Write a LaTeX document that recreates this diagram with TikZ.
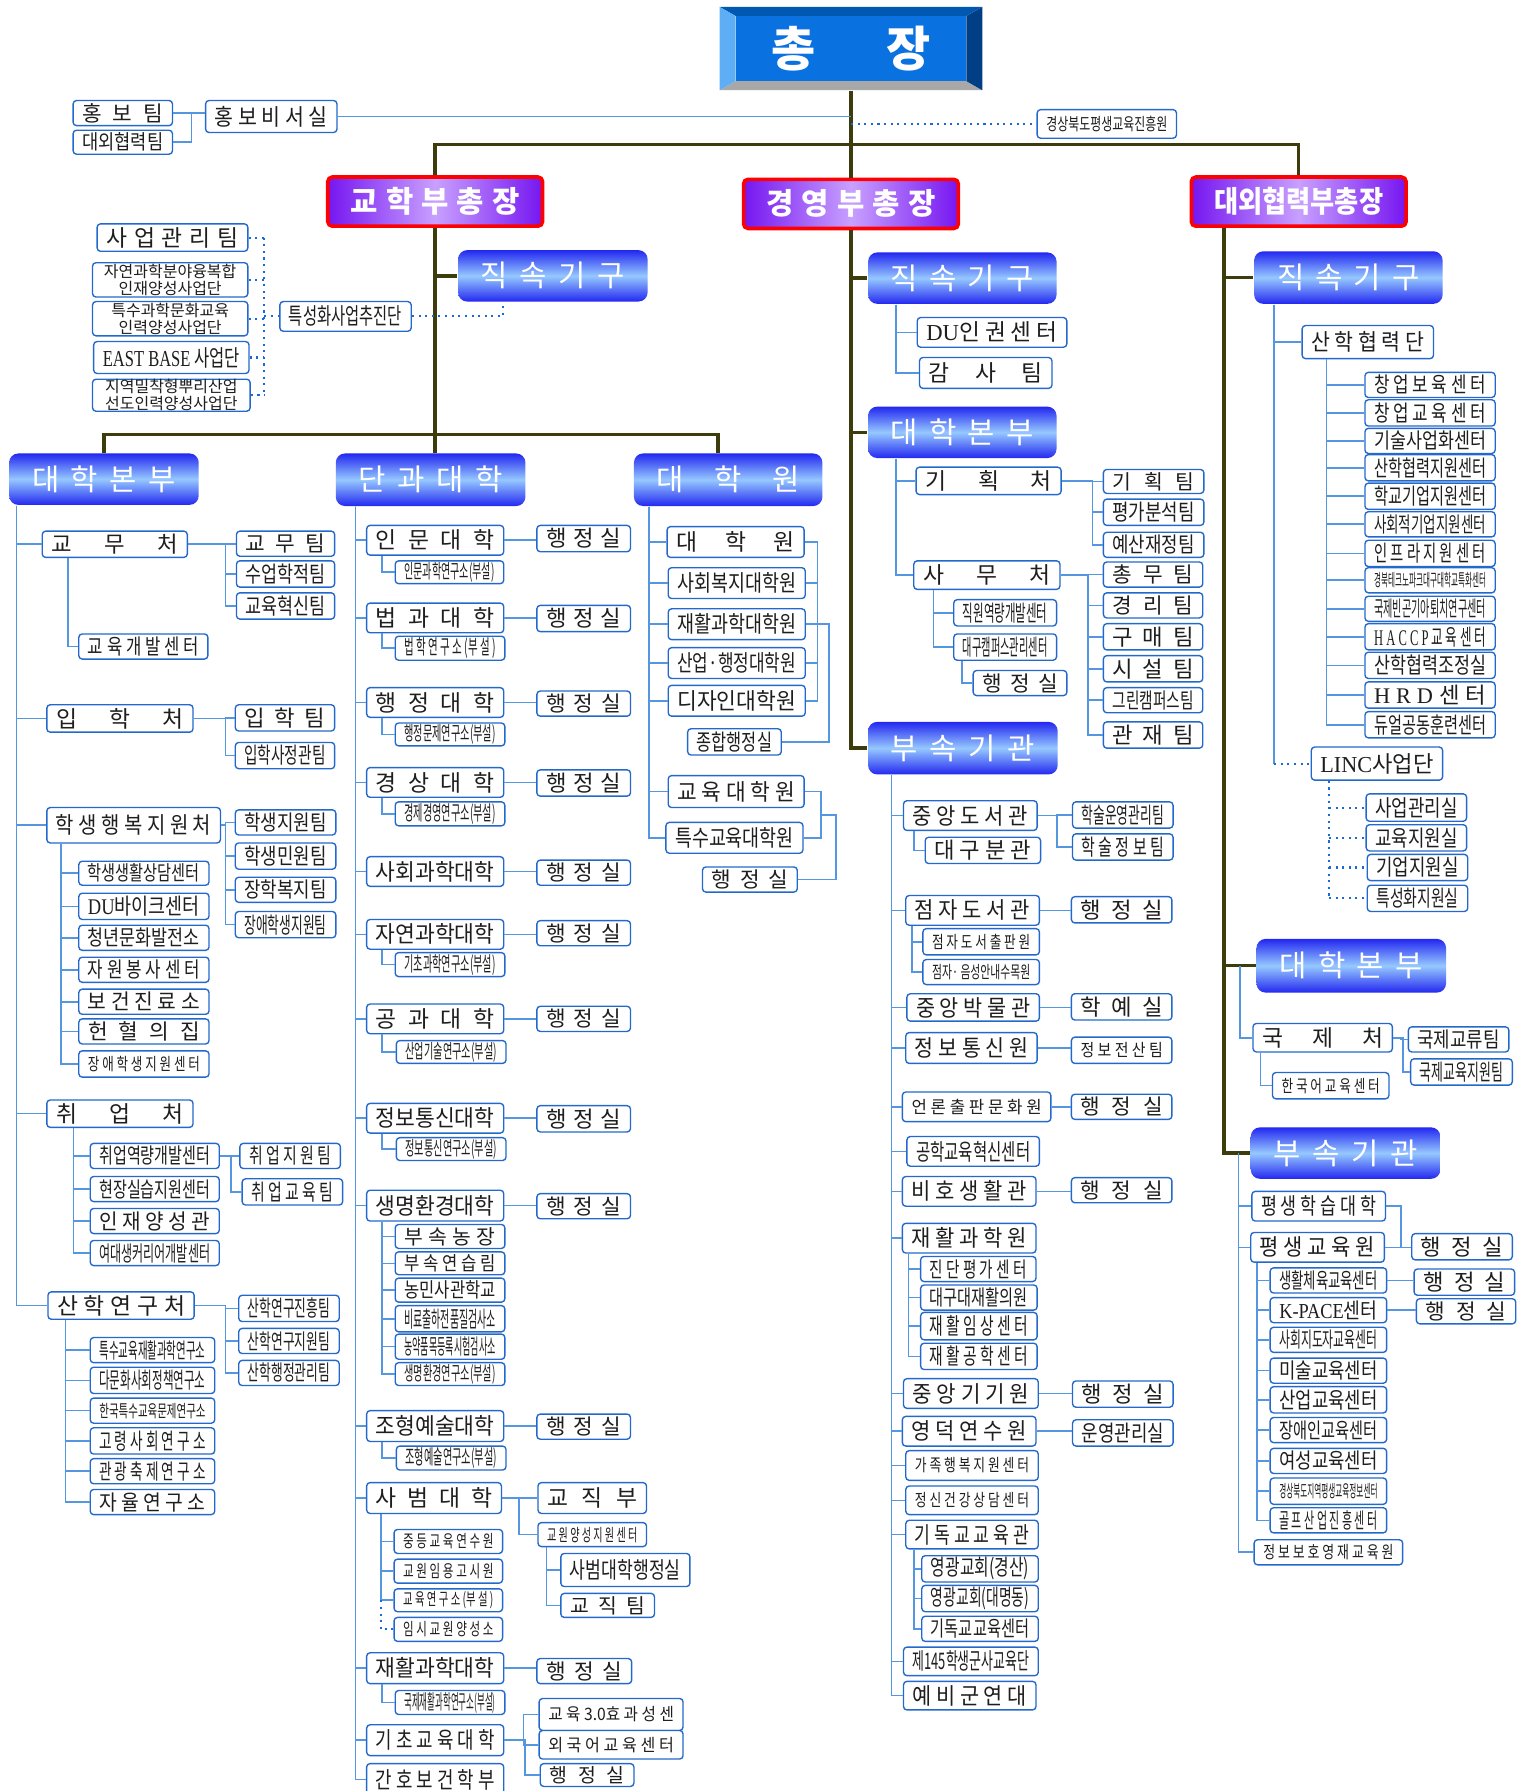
\documentclass[tikz,border=0pt]{standalone}
\usepackage{fontspec}
\setmainfont{Noto Sans CJK KR}
\newfontfamily\lat{Liberation Serif}
\usetikzlibrary{calc,positioning}
\definecolor{boxc}{RGB}{35,105,205}
\definecolor{lnc}{RGB}{85,150,225}
\definecolor{olv}{RGB}{60,60,12}
\definecolor{dotc}{RGB}{25,105,215}
\definecolor{hdtop}{RGB}{35,40,240}
\definecolor{hdmid}{RGB}{150,200,255}
\definecolor{vpside}{RGB}{118,22,240}
\definecolor{vpmid}{RGB}{200,160,255}
\definecolor{txt}{RGB}{30,30,30}
\definecolor{chieffill}{RGB}{10,114,224}
\definecolor{bevtop}{RGB}{0,88,176}
\definecolor{bevleft}{RGB}{94,174,245}
\definecolor{bevright}{RGB}{0,62,133}
\definecolor{bevbot}{RGB}{168,168,168}
\newlength\obwd \newlength\obw \newlength\obpad \newsavebox\obbox
\newcommand\fitx[1]{\obw=\obwd\advance\obw by -\obpad
  \sbox\obbox{#1}%
  \ifdim\wd\obbox>\obw
    \pgfmathsetmacro\obf{\the\obw/\the\wd\obbox}%
    \scalebox{\obf}[1]{\usebox\obbox}%
  \else
    \makebox[\obw][s]{\hskip0pt plus .01pt#1\hskip0pt plus .01pt}%
  \fi}
\newcommand\orgbox[7][]{%
  \pgfmathsetmacro\obW{(#5-#3)*0.5}\pgfmathsetmacro\obH{(#6-#4)*0.5}%
  \pgfmathsetmacro\obS{min(0.85*(#6-#4),20)*0.5}\setlength\obwd{\obW pt}%
  \node[ob,font=\fontsize{\obS}{\obS}\selectfont,#1,minimum width=\obW pt,minimum height=\obH pt] (#2) at ({(#3+#5)/2},{(#4+#6)/2}) {\fitx{#7}};}
\newcommand\orgtwo[8][]{%
  \pgfmathsetmacro\obW{(#5-#3)*0.5}\pgfmathsetmacro\obH{(#6-#4)*0.5}\setlength\obwd{\obW pt}%
  \node[ob,font=\fontsize{7}{7.4}\selectfont,align=center,#1,minimum width=\obW pt,minimum height=\obH pt] (#2) at ({(#3+#5)/2},{(#4+#6)/2}) {\fitx{#7}\\\fitx{#8}};}
\tikzset{
  txtpad/.code={\setlength\obpad{#1}},
  ob/.style={draw=boxc,line width=0.6pt,rounded corners=1.5pt,fill=white,inner sep=0pt,text=txt,txtpad=8pt},
  hd/.style={draw=none,rounded corners=4pt,top color=hdtop,bottom color=hdtop,middle color=hdmid,text=white,font=\fontsize{13}{13}\selectfont,txtpad=20pt},
  vp/.style={draw=red,line width=1.6pt,rounded corners=2pt,left color=vpside,right color=vpside,middle color=vpmid,text=white,font=\fontsize{13}{13}\selectfont\bfseries,txtpad=20pt},
  chief/.style={draw=none,fill=chieffill,rounded corners=0pt,text=white,font=\fontsize{21}{21}\selectfont\bfseries,txtpad=31pt},
  smf/.style={font=\fontsize{7.5}{7.5}\selectfont},
  ln/.style={draw=lnc,line width=0.7pt},
  mln/.style={draw=olv,line width=1.5pt},
  dln/.style={draw=dotc,line width=0.9pt,dotted}
}
\begin{document}
\begin{tikzpicture}[x=0.5pt,y=-0.5pt]
\useasboundingbox (0,0) rectangle (1336,1568);
\fill[white] (0,0) rectangle (1336,1568);
\fill[bevbot] (630,79) -- (860,79) -- (846,71) -- (644,71) -- cycle;
\fill[bevright] (860,6) -- (860,79) -- (846,71) -- (846,14) -- cycle;
\fill[bevtop] (630,6) -- (860,6) -- (846,14) -- (644,14) -- cycle;
\fill[bevleft] (630,6) -- (644,14) -- (644,71) -- (630,79) -- cycle;
\orgbox[chief]{chong}{644}{14}{846}{71}{총 장}
\orgbox{hongbo}{180}{88}{295}{116}{홍 보 비 서 실}
\orgbox{hbteam}{64}{88}{151}{110}{홍 보 팀}
\orgbox{dwteam}{64}{114}{151}{135}{대외협력팀}
\orgbox[smf]{gbpe}{908}{96}{1030}{121}{경상북도평생교육진흥원}
\orgbox[vp]{gh}{287}{155}{475}{198}{교 학 부 총 장}
\orgbox[vp]{gy}{651}{157}{839}{200}{경 영 부 총 장}
\orgbox[vp]{gd}{1043}{155}{1231}{198}{대외협력부총장}
\orgbox[hd]{jk1}{401}{219}{567}{264}{직 속 기 구}
\orgbox[hd]{hq1}{8}{397}{174}{442}{대 학 본 부}
\orgbox[hd]{dk}{294}{397}{460}{443}{단 과 대 학}
\orgbox[hd]{gs}{555}{397}{720}{443}{대 학 원}
\orgbox[hd]{jk2}{760}{221}{925}{266}{직 속 기 구}
\orgbox[hd]{hq2}{760}{356}{925}{401}{대 학 본 부}
\orgbox[hd]{bk2}{760}{632}{926}{678}{부 속 기 관}
\orgbox[hd]{jk3}{1098}{220}{1263}{266}{직 속 기 구}
\orgbox[hd]{hq3}{1100}{822}{1266}{869}{대 학 본 부}
\orgbox[hd]{bk3}{1095}{987}{1261}{1032}{부 속 기 관}
\orgbox{tsk}{245}{264}{360}{290}{특성화사업추진단}
\orgbox{sg1}{85}{196}{217}{220}{사 업 관 리 팀}
\orgtwo{sg2}{81}{230}{217}{260}{자연과학분야융복합}{인재양성사업단}
\orgtwo{sg3}{81}{264}{217}{294}{특수과학문화교육}{인력양성사업단}
\orgbox{sg4}{82}{299}{218}{327}{{\lat EAST BASE} 사업단}
\orgtwo{sg5}{81}{332}{219}{360}{지역밀착형뿌리산업}{선도인력양성사업단}
\orgbox{gm}{37}{465}{164}{488}{교 무 처}
\orgbox{gmt1}{207}{465}{293}{487}{교 무 팀}
\orgbox{gmt2}{207}{491}{293}{514}{수업학적팀}
\orgbox{gmt3}{207}{519}{293}{542}{교육혁신팀}
\orgbox{gdc}{69}{555}{182}{577}{교 육 개 발 센 터}
\orgbox{ih}{41}{617}{169}{641}{입 학 처}
\orgbox{iht1}{206}{617}{293}{640}{입 학 팀}
\orgbox{iht2}{206}{650}{293}{673}{입학사정관팀}
\orgbox{hs}{41}{707}{193}{738}{학 생 행 복 지 원 처}
\orgbox{hst1}{206}{709}{294}{731}{학생지원팀}
\orgbox{hst2}{206}{738}{294}{761}{학생민원팀}
\orgbox{hst3}{206}{768}{294}{790}{장학복지팀}
\orgbox{hst4}{206}{798}{294}{821}{장애학생지원팀}
\orgbox{hsc1}{69}{754}{183}{775}{학생생활상담센터}
\orgbox{hsc2}{69}{782}{183}{805}{{\lat DU}바이크센터}
\orgbox{hsc3}{69}{810}{183}{832}{청년문화발전소}
\orgbox{hsc4}{69}{838}{183}{860}{자 원 봉 사 센 터}
\orgbox{hsc5}{69}{866}{183}{888}{보 건 진 료 소}
\orgbox{hsc6}{69}{892}{183}{914}{헌 혈 의 집}
\orgbox[smf]{hsc7}{69}{920}{183}{943}{장 애 학 생 지 원 센 터}
\orgbox{cu}{41}{963}{169}{987}{취 업 처}
\orgbox{cuc1}{79}{1001}{192}{1023}{취업역량개발센터}
\orgbox{cuc2}{79}{1030}{192}{1052}{현장실습지원센터}
\orgbox{cuc3}{79}{1058}{192}{1080}{인 재 양 성 관}
\orgbox{cuc4}{79}{1086}{192}{1108}{여대생커리어개발센터}
\orgbox{cut1}{210}{1001}{298}{1023}{취 업 지 원 팀}
\orgbox{cut2}{212}{1032}{300}{1055}{취 업 교 육 팀}
\orgbox{sy}{42}{1131}{170}{1155}{산 학 연 구 처}
\orgbox{syc1}{79}{1171}{188}{1193}{특수교육재활과학연구소}
\orgbox{syc2}{79}{1197}{188}{1220}{다문화사회정책연구소}
\orgbox[smf]{syc3}{79}{1224}{188}{1246}{한국특수교육문제연구소}
\orgbox{syc4}{79}{1250}{188}{1273}{고 령 사 회 연 구 소}
\orgbox{syc5}{79}{1277}{188}{1299}{관 광 축 제 연 구 소}
\orgbox{syc6}{79}{1304}{188}{1326}{자 율 연 구 소}
\orgbox{syt1}{209}{1134}{297}{1157}{산학연구진흥팀}
\orgbox{syt2}{209}{1163}{297}{1185}{산학연구지원팀}
\orgbox{syt3}{209}{1191}{297}{1213}{산학행정관리팀}
\orgbox{c1}{321}{460}{441}{486}{인 문 대 학}
\orgbox{a1}{470}{460}{552}{483}{행 정 실}
\orgbox{r1}{346}{491}{441}{511}{인문과학연구소(부설)}
\orgbox{c2}{321}{528}{441}{554}{법 과 대 학}
\orgbox{a2}{470}{530}{552}{553}{행 정 실}
\orgbox{r2}{346}{557}{442}{578}{법 학 연 구 소 (부 설 )}
\orgbox{c3}{321}{602}{441}{628}{행 정 대 학}
\orgbox{a3}{470}{605}{552}{627}{행 정 실}
\orgbox{r3}{346}{633}{442}{653}{행정문제연구소(부설)}
\orgbox{c4}{321}{672}{441}{698}{경 상 대 학}
\orgbox{a4}{470}{674}{552}{697}{행 정 실}
\orgbox{r4}{346}{702}{442}{723}{경제경영연구소(부설)}
\orgbox{c5}{321}{750}{441}{776}{사회과학대학}
\orgbox{a5}{470}{753}{552}{775}{행 정 실}
\orgbox{c6}{321}{805}{441}{831}{자연과학대학}
\orgbox{a6}{470}{806}{552}{828}{행 정 실}
\orgbox{r6}{346}{834}{442}{855}{기초과학연구소(부설)}
\orgbox{c7}{321}{879}{441}{905}{공 과 대 학}
\orgbox{a7}{470}{881}{552}{903}{행 정 실}
\orgbox{r7}{347}{911}{443}{931}{산업기술연구소(부설)}
\orgbox{c8}{321}{966}{441}{992}{정보통신대학}
\orgbox{a8}{470}{968}{552}{991}{행 정 실}
\orgbox{r8}{347}{996}{443}{1016}{정보통신연구소(부설)}
\orgbox{c9}{321}{1042}{441}{1069}{생명환경대학}
\orgbox{a9}{470}{1045}{552}{1067}{행 정 실}
\orgbox{bs1}{346}{1072}{442}{1093}{부 속 농 장}
\orgbox{bs2}{346}{1096}{442}{1116}{부 속 연 습 림}
\orgbox{bs3}{346}{1119}{442}{1140}{농민사관학교}
\orgbox{bs4}{346}{1143}{442}{1166}{비료출하전품질검사소}
\orgbox{bs5}{346}{1168}{442}{1190}{농약품목등록시험검사소}
\orgbox{bs6}{346}{1193}{442}{1213}{생명환경연구소(부설)}
\orgbox{c10}{321}{1235}{441}{1262}{조형예술대학}
\orgbox{a10}{470}{1238}{552}{1260}{행 정 실}
\orgbox{r10}{347}{1266}{443}{1287}{조형예술연구소(부설)}
\orgbox{c11}{321}{1298}{439}{1325}{사 범 대 학}
\orgbox{sb1}{471}{1298}{566}{1325}{교 직 부}
\orgbox[smf]{sb2}{471}{1333}{566}{1354}{교 원 양 성 지 원 센 터}
\orgbox{sb3}{491}{1360}{604}{1389}{사범대학행정실}
\orgbox{sb4}{491}{1395}{573}{1416}{교 직 팀}
\orgbox[smf]{sm1}{345}{1339}{440}{1360}{중 등 교 육 연 수 원}
\orgbox[smf]{sm2}{345}{1365}{440}{1386}{교 원 임 용 고 시 원}
\orgbox[smf]{sm3}{345}{1391}{440}{1411}{교 육 연 구 소 (부 설 )}
\orgbox[smf]{sm4}{345}{1416}{440}{1437}{임 시 교 원 양 성 소}
\orgbox{c12}{321}{1447}{441}{1474}{재활과학대학}
\orgbox{a12}{470}{1452}{553}{1474}{행 정 실}
\orgbox{r12}{346}{1480}{442}{1501}{국제재활과학연구소(부설)}
\orgbox{c13}{321}{1510}{441}{1537}{기 초 교 육 대 학}
\orgbox[smf]{kc1}{472}{1487}{598}{1515}{교 육 3.0효 과 성 센}
\orgbox[smf]{kc2}{472}{1515}{598}{1540}{외 국 어 교 육 센 터}
\orgbox{kc3}{473}{1544}{555}{1564}{행 정 실}
\orgbox{c14}{321}{1544}{441}{1572}{간 호 보 건 학 부}
\orgbox{g1}{584}{461}{704}{488}{대 학 원}
\orgbox{g2}{585}{497}{705}{524}{사회복지대학원}
\orgbox{g3}{585}{533}{705}{560}{재활과학대학원}
\orgbox{g4}{585}{567}{705}{594}{산업·행정대학원}
\orgbox{g5}{585}{600}{705}{627}{디자인대학원}
\orgbox{g6}{602}{638}{684}{661}{종합행정실}
\orgbox{g7}{585}{679}{704}{707}{교 육 대 학 원}
\orgbox{g8}{583}{720}{703}{747}{특수교육대학원}
\orgbox{g9}{615}{759}{698}{781}{행 정 실}
\orgbox{dur}{803}{278}{934}{304}{{\lat DU}인 권 센 터}
\orgbox{gam}{805}{313}{921}{340}{감 사 팀}
\orgbox{gich}{802}{409}{929}{433}{기 획 처}
\orgbox{gt1}{966}{411}{1054}{432}{기 획 팀}
\orgbox{gt2}{966}{437}{1054}{460}{평가분석팀}
\orgbox{gt3}{966}{466}{1054}{488}{예산재정팀}
\orgbox{samu}{800}{491}{928}{516}{사 무 처}
\orgbox{st1}{966}{492}{1053}{514}{총 무 팀}
\orgbox{st2}{966}{519}{1053}{541}{경 리 팀}
\orgbox{st3}{966}{546}{1053}{569}{구 매 팀}
\orgbox{st4}{966}{574}{1053}{597}{시 설 팀}
\orgbox{st5}{966}{602}{1053}{624}{그린캠퍼스팀}
\orgbox{st6}{966}{632}{1053}{655}{관 재 팀}
\orgbox{sc1}{835}{525}{925}{548}{직원역량개발센터}
\orgbox{sc2}{835}{555}{925}{578}{대구캠퍼스관리센터}
\orgbox{sc3}{852}{587}{934}{609}{행 정 실}
\orgbox{b1}{791}{701}{908}{727}{중 앙 도 서 관}
\orgbox{bt1}{939}{702}{1027}{725}{학술운영관리팀}
\orgbox{bt2}{939}{730}{1027}{753}{학 술 정 보 팀}
\orgbox{b1s}{810}{733}{911}{756}{대 구 분 관}
\orgbox{b2}{793}{784}{910}{810}{점 자 도 서 관}
\orgbox{ba2}{938}{785}{1026}{808}{행 정 실}
\orgbox[smf]{b2s1}{808}{813}{910}{836}{점 자 도 서 출 판 원}
\orgbox[smf]{b2s2}{808}{840}{910}{862}{점자· 음성안내수목원}
\orgbox{b3}{794}{870}{910}{894}{중 앙 박 물 관}
\orgbox{ba3}{938}{870}{1026}{893}{학 예 실}
\orgbox{b4}{793}{904}{908}{931}{정 보 통 신 원}
\orgbox[smf]{ba4}{938}{908}{1026}{931}{정 보 전 산 팀}
\orgbox[smf]{b5}{790}{956}{920}{982}{언 론 출 판 문 화 원}
\orgbox{ba5}{938}{958}{1026}{980}{행 정 실}
\orgbox{b6}{794}{995}{910}{1021}{공학교육혁신센터}
\orgbox{b7}{790}{1030}{907}{1056}{비 호 생 활 관}
\orgbox{ba7}{938}{1031}{1026}{1053}{행 정 실}
\orgbox{b8}{790}{1071}{907}{1097}{재 활 과 학 원}
\orgbox{b8s1}{806}{1100}{907}{1122}{진 단 평 가 센 터}
\orgbox{b8s2}{806}{1125}{908}{1147}{대구대재활의원}
\orgbox{b8s3}{806}{1149}{908}{1173}{재 활 임 상 센 터}
\orgbox{b8s4}{806}{1176}{908}{1199}{재 활 공 학 센 터}
\orgbox{b9}{791}{1207}{909}{1233}{중 앙 기 기 원}
\orgbox{ba9}{939}{1209}{1027}{1232}{행 정 실}
\orgbox{b10}{790}{1240}{907}{1266}{영 덕 연 수 원}
\orgbox{ba10}{939}{1243}{1027}{1266}{운영관리실}
\orgbox[smf]{b11}{793}{1270}{909}{1296}{가 족 행 복 지 원 센 터}
\orgbox[smf]{b12}{793}{1301}{909}{1326}{정 신 건 강 상 담 센 터}
\orgbox{b13}{793}{1331}{909}{1356}{기 독 교 교 육 관}
\orgbox{b13s1}{807}{1362}{909}{1385}{영광교회(경산)}
\orgbox{b13s2}{807}{1388}{909}{1411}{영광교회(대명동)}
\orgbox{b13s3}{807}{1415}{909}{1437}{기독교교육센터}
\orgbox{b14}{791}{1442}{909}{1467}{제145학생군사교육단}
\orgbox{b15}{791}{1472}{907}{1497}{예 비 군 연 대}
\orgbox{sh}{1140}{285}{1255}{314}{산 학 협 력 단}
\orgbox{shc1}{1195}{326}{1309}{348}{창 업 보 육 센 터}
\orgbox{shc2}{1195}{350}{1309}{373}{창 업 교 육 센 터}
\orgbox{shc3}{1195}{375}{1309}{397}{기술사업화센터}
\orgbox{shc4}{1195}{398}{1309}{421}{산학협력지원센터}
\orgbox{shc5}{1195}{423}{1309}{446}{학교기업지원센터}
\orgbox{shc6}{1195}{448}{1309}{470}{사회적기업지원센터}
\orgbox{shc7}{1195}{473}{1309}{496}{인 프 라 지 원 센 터}
\orgbox[smf]{shc8}{1195}{497}{1309}{519}{경북테크노파크대구대학교특화센터}
\orgbox{shc9}{1195}{522}{1309}{544}{국제빈곤기아퇴치연구센터}
\orgbox{shc10}{1195}{546}{1309}{569}{{\lat H A C C P} 교 육 센 터}
\orgbox{shc11}{1195}{571}{1309}{594}{산학협력조정실}
\orgbox{shc12}{1195}{597}{1309}{620}{{\lat H} {\lat R} {\lat D} 센 터}
\orgbox{shc13}{1195}{623}{1309}{646}{듀얼공동훈련센터}
\orgbox{linc}{1148}{654}{1263}{683}{{\lat LINC}사업단}
\orgbox{lc1}{1196}{695}{1284}{719}{사업관리실}
\orgbox{lc2}{1196}{722}{1284}{745}{교육지원실}
\orgbox{lc3}{1197}{748}{1285}{771}{기업지원실}
\orgbox{lc4}{1197}{775}{1285}{798}{특성화지원실}
\orgbox{gj}{1097}{896}{1219}{921}{국 제 처}
\orgbox{gjt1}{1233}{899}{1321}{921}{국제교류팀}
\orgbox{gjt2}{1235}{927}{1324}{950}{국제교육지원팀}
\orgbox[smf]{gjs}{1114}{939}{1216}{962}{한 국 어 교 육 센 터}
\orgbox{p1}{1096}{1043}{1213}{1069}{평 생 학 습 대 학}
\orgbox{p2}{1095}{1079}{1212}{1105}{평 생 교 육 원}
\orgbox{p2a}{1236}{1080}{1324}{1103}{행 정 실}
\orgbox{pc1}{1112}{1110}{1214}{1132}{생활체육교육센터}
\orgbox{pc2}{1112}{1136}{1214}{1158}{{\lat K-PACE}센터}
\orgbox{pc3}{1112}{1162}{1214}{1184}{사회지도자교육센터}
\orgbox{pc4}{1112}{1189}{1214}{1211}{미술교육센터}
\orgbox{pc5}{1112}{1214}{1214}{1237}{산업교육센터}
\orgbox{pc6}{1112}{1241}{1214}{1263}{장애인교육센터}
\orgbox{pc7}{1112}{1268}{1214}{1290}{여성교육센터}
\orgbox[smf]{pc8}{1112}{1294}{1214}{1317}{경상북도지역평생교육정보센터}
\orgbox{pc9}{1112}{1320}{1214}{1342}{골 프 산 업 진 흥 센 터}
\orgbox{pa1}{1238}{1111}{1326}{1134}{행 정 실}
\orgbox{pa2}{1240}{1137}{1327}{1159}{행 정 실}
\orgbox[smf]{p3}{1098}{1348}{1228}{1370}{정 보 보 호 영 재 교 육 원}
\draw[mln] (chong.south) ++(0,8) -- (gy.north);
\draw[mln] (gh.north) -- ++(0,-27) -| (gd.north);
\draw[ln] (hongbo.east) -- (hongbo.east -| chong.south);
\draw[ln] (hbteam.east) -- (hbteam.east -| hongbo.west);
\draw[ln] (hbteam.east) ++(16,0) |- (dwteam.east);
\draw[dln] (gbpe.west -| chong.south) -- (gbpe.west);
\draw[mln] (gh.south) -- (gh.south |- dk.north);
\draw[mln] (gh.south |- jk1.west) -- (jk1.west);
\draw[mln] (hq1.north) -- ++(0,-16) -| ([xshift=-4.5pt]gs.north);
\draw[dln] (tsk.east) -| ([xshift=20pt]jk1.south west);
\coordinate (tsp) at ([xshift=-6.5pt]tsk.west);
\draw[dln] (tsp) -- (tsk.west);
\draw[dln] (sg1.east -| tsp) -- (sg5.east -| tsp);
\foreach \i in {1,...,5} \draw[dln] (sg\i.east) -- (sg\i.east -| tsp);
\foreach \n in {gm,ih,hs,cu,sy} \draw[ln] (hq1.south west) ++(7,0) |- (\n.west);
\foreach \i in {1,2,3} \draw[ln] (gmt\i.west) -- ++(-9,0) |- (gm.east);
\draw[ln] (gm.south west) ++(23,0) |- (gdc.west);
\foreach \i in {1,2} \draw[ln] (iht\i.west) -- ++(-8,0) |- (ih.east);
\foreach \i in {1,...,4} \draw[ln] (hst\i.west) -- ++(-8,0) |- (hs.east);
\foreach \i in {1,...,7} \draw[ln] (hs.south west) ++(13,0) |- (hsc\i.west);
\foreach \i in {1,...,4} \draw[ln] (cu.south west) ++(24,0) |- (cuc\i.west);
\foreach \i in {1,2} \draw[ln] (cut\i.west) -- ++(-9,0) |- (cuc1.east);
\foreach \i in {1,...,6} \draw[ln] (sy.south west) ++(16,0) |- (syc\i.west);
\foreach \i in {1,2,3} \draw[ln] (syt\i.west) -- ++(-11,0) |- (sy.east);
\foreach \i in {1,...,14} \draw[ln] (dk.south west) ++(18,0) |- (c\i.west);
\foreach \i in {1,2,3,4,5,6,7,8,9,10,12} \draw[ln] (c\i.east) -- (c\i.east -| a\i.west);
\foreach \i in {1,2,3,4,6,7,8,10,12} \draw[ln] (c\i.south west) ++(14,0) |- (r\i.west);
\foreach \i in {1,...,6} \draw[ln] (c9.south west) ++(14,0) |- (bs\i.west);
\draw[ln] (c11.east) -- (sb1.west);
\draw[ln] (sb2.west) -- ++(-16,0) |- (c11.east);
\foreach \n in {sb3,sb4} \draw[ln] (sb2.south west) ++(8,0) |- (\n.west);
\foreach \i in {1,2,3} \draw[ln] (c11.south west) ++(13,0) |- (sm\i.west);
\draw[dln] (sm3.west) ++(-11,0) |- (sm4.west);
\foreach \i in {1,2,3} \draw[ln] (kc\i.west) -- ++(-13,0) |- (c13.east);
\foreach \i in {1,2,3,4,5,7,8} \draw[ln] (gs.south west) ++(14,0) |- (g\i.west);
\foreach \i in {2,...,5} \draw[ln] (g\i.east) -- ++(10,0) |- (g1.east);
\draw[ln] (g6.east) -| ([xshift=10pt]g3.east) -- (g3.east);
\draw[ln] (g8.east) -- ++(15,0) |- (g7.east);
\draw[ln] (g9.east) -| ($(g7.south east)!.5!(g8.north east)+(28,0)$) -- ++(-14,0);
\draw[mln] (gy.south) |- (bk2.west);
\foreach \n in {jk2,hq2} \draw[mln] (gy.south |- \n.west) -- (\n.west);
\foreach \n in {dur,gam} \draw[ln] (jk2.south west) ++(25,0) |- (\n.west);
\foreach \n in {gich,samu} \draw[ln] (hq2.south west) ++(25,0) |- (\n.west);
\foreach \i in {1,2,3} \draw[ln] (gt\i.west) -- ++(-9,0) |- (gich.east);
\foreach \i in {1,...,6} \draw[ln] (st\i.west) -- ++(-13,0) |- (samu.east);
\foreach \n in {sc1,sc2} \draw[ln] (samu.south west) ++(18,0) |- (\n.west);
\draw[ln] (sc2.south west) ++(8,0) |- (sc3.west);
\foreach \i in {1,...,15} \draw[ln] (bk2.south west) ++(21,0) |- (b\i.west);
\foreach \i in {1,2} \draw[ln] (bt\i.west) -- ++(-13,0) |- (b1.east);
\draw[ln] (b1.south west) ++(10,0) |- (b1s.west);
\foreach \i in {2,3,4,5,7,9,10} \draw[ln] (b\i.east) -- (b\i.east -| ba\i.west);
\foreach \i in {1,2} \draw[ln] (b2.south west) ++(6,0) |- (b2s\i.west);
\foreach \i in {1,...,4} \draw[ln] (b8.south west) ++(6,0) |- (b8s\i.west);
\foreach \i in {1,2,3} \draw[ln] (b13.south west) ++(8,0) |- (b13s\i.west);
\foreach \n in {jk3,hq3,bk3} \draw[mln] (gd.south west) ++(30,0) |- (\n.west);
\draw[ln] (jk3.south west) ++(18,0) coordinate (jsp) |- (sh.west);
\draw[ln] (jsp) -- (jsp |- linc.west);
\draw[dln] (jsp |- linc.west) -- (linc.west);
\foreach \i in {1,...,13} \draw[ln] (sh.south west) ++(22,0) |- (shc\i.west);
\draw[dln] (linc.south west) ++(16,0) coordinate (lsp) -- (lsp |- lc4.west);
\foreach \i in {1,...,4} \draw[dln] (lc\i.west -| lsp) -- (lc\i.west);
\draw[ln] (hq3.west) ++(-14,0) |- (gj.west);
\foreach \i in {1,2} \draw[ln] (gjt\i.west) -- ++(-6,0) |- (gj.east);
\draw[ln] (gj.south west) ++(7,0) |- (gjs.west);
\foreach \n in {p1,p2,p3} \draw[ln] (bk3.west) ++(-10,0) |- (\n.west);
\draw[ln] (p2.east) -- (p2.east -| p2a.west);
\draw[ln] (p1.east) -| ([xshift=-4.5pt]p2a.west);
\foreach \i in {1,...,9} \draw[ln] (p2.south west) ++(6,0) |- (pc\i.west);
\foreach \i in {1,2} \draw[ln] (pc\i.east) -- (pc\i.east -| pa\i.west);
\end{tikzpicture}
\end{document}
